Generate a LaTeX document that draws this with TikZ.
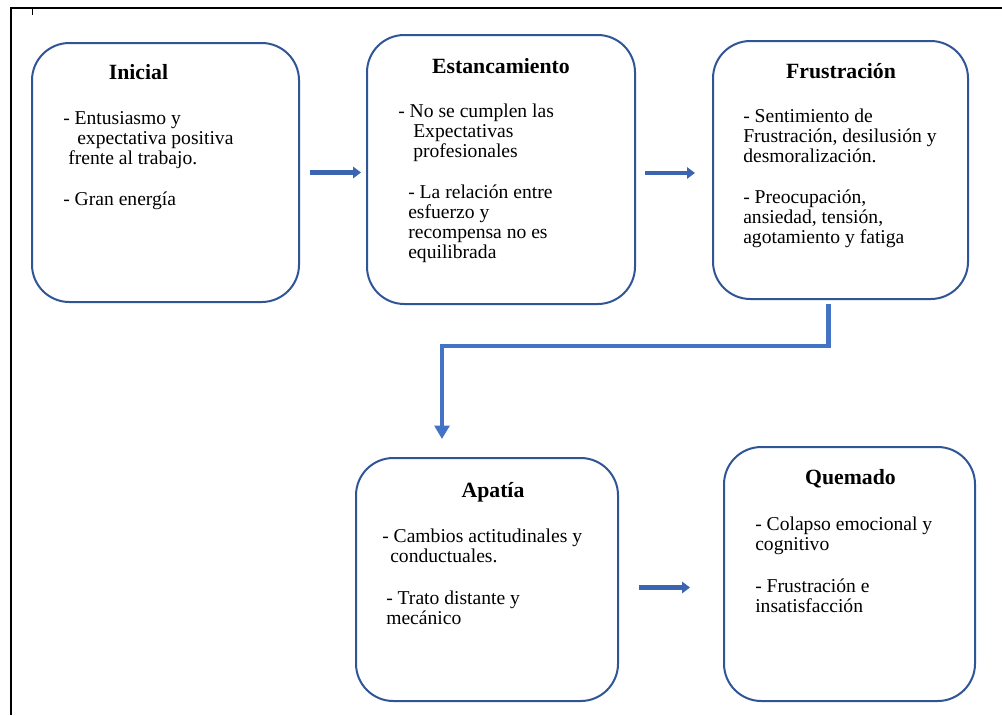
\documentclass[tikz,border=0pt]{standalone}
\usepackage{fontspec}
\setmainfont{Liberation Serif}
\usetikzlibrary{arrows.meta}
\definecolor{bordeazul}{HTML}{2F5597}
\definecolor{flechaazul}{HTML}{4472C4}
\newcommand{\lineas}[1]{\begin{tabular}[t]{@{}l@{}}#1\end{tabular}}
\tikzset{
  caja/.style={draw=bordeazul, line width=1.5pt, rounded corners=28pt, inner sep=0pt},
  titulo/.style={anchor=base, inner sep=0pt, font=\fontsize{16.3}{18}\selectfont\bfseries},
  texto/.style={anchor=base west, inner sep=0pt, font=\fontsize{14.7}{15}\selectfont},
  flecha/.style={draw=flechaazul!55!bordeazul, line width=3.6pt, -{Triangle[length=6pt,width=8.5pt]}},
  codo/.style={draw=flechaazul, line width=3.5pt, -{Triangle[length=10pt,width=11pt]}}
}
\begin{document}
\begin{tikzpicture}[x=0.75pt,y=-0.75pt]
    \useasboundingbox (0,0) rectangle (1002,715);

    % marco
    \draw[line width=1.5pt] (10,8) -- (1002,8);
    \draw[line width=1.5pt] (11,8) -- (11,715);
    \draw[line width=0.6pt] (32,8) -- (32,15);

    % cajas
    \node[caja, minimum width=200.25pt, minimum height=194.25pt] (inicial) at (165.5,172.5) {};
    \node[caja, minimum width=201pt, minimum height=201.75pt] (estanc) at (501,169.5) {};
    \node[caja, minimum width=191.25pt, minimum height=193.5pt] (frustr) at (840.5,170) {};
    \node[caja, minimum width=196.5pt, minimum height=182.25pt] (apatia) at (487,579.5) {};
    \node[caja, minimum width=188.25pt, minimum height=190.5pt] (quemado) at (849.5,574) {};

    \node[titulo] (tinicial) at (138.5,79) {Inicial};
    \node[titulo] (testanc) at (501,73) {Estancamiento};
    \node[titulo] (tfrustr) at (841,78) {Frustración};
    \node[titulo] (tapatia) at (493,497) {Apatía};
    \node[titulo] (tquemado) at (850.5,484) {Quemado};

    \node[texto] (xinicial) at (63,124) {\lineas{- Entusiasmo y\\ \hspace*{10.5pt}expectativa positiva\\ \hspace*{3.75pt}frente al trabajo.\\[16pt] - Gran energía}};
    \node[texto] (xestanc) at (398,117) {\lineas{- No se cumplen las\\ \hspace*{11.25pt}Expectativas\\ \hspace*{11.25pt}profesionales\\[16pt] \hspace*{7.5pt}- La relación entre\\ \hspace*{7.5pt}esfuerzo y\\ \hspace*{7.5pt}recompensa no es\\ \hspace*{7.5pt}equilibrada}};
    \node[texto] (xfrustr) at (743,122) {\lineas{- Sentimiento de\\ Frustración, desilusión y\\ desmoralización.\\[16pt] - Preocupación,\\ ansiedad, tensión,\\ agotamiento y fatiga}};
    \node[texto] (xapatia) at (382,542) {\lineas{- Cambios actitudinales y\\ \hspace*{6pt}conductuales.\\[17pt] \hspace*{3pt}- Trato distante y\\ \hspace*{3pt}mecánico}};
    \node[texto] (xquemado) at (755,530) {\lineas{- Colapso emocional y\\ cognitivo\\[17pt] - Frustración e\\ insatisfacción}};

    % flechas
    \coordinate (q2) at ([yshift=-2.6pt]estanc.east);
    \coordinate (q3) at ([yshift=-6pt]apatia.east);
    \draw[flecha, shorten <=7.5pt, shorten >=3.75pt] (inicial.east) -- (inicial.east -| estanc.west);
    \draw[flecha, shorten <=6.75pt, shorten >=12.75pt] (q2) -- (q2 -| frustr.west);
    \draw[flecha, shorten <=15pt, shorten >=24.75pt] (q3) -- (q3 -| quemado.west);
    \draw[codo, shorten <=3pt, shorten >=13.5pt] ([xshift=-9pt]frustr.south) -- ++(0,46) -| ([xshift=-33.75pt]apatia.north);

\end{tikzpicture}
\end{document}
